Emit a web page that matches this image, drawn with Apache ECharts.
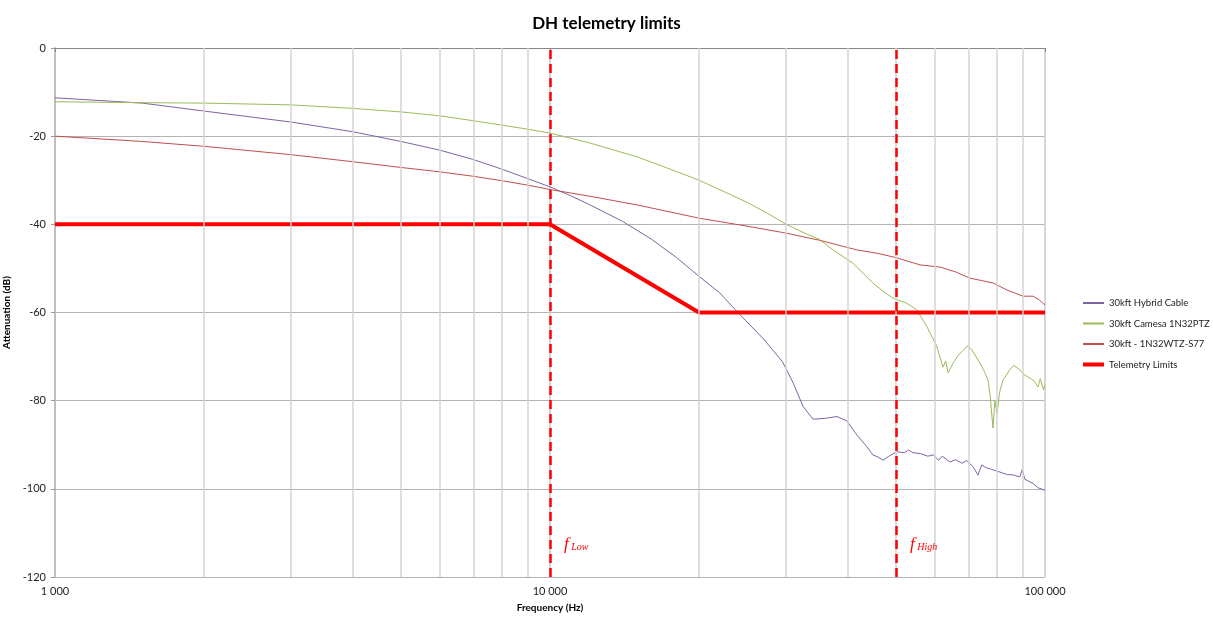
<!DOCTYPE html>
<html>
<head>
<meta charset="utf-8">
<script src="https://cdn.jsdelivr.net/npm/echarts@6/dist/echarts.min.js"></script>
<style>html,body{margin:0;padding:0;background:#fff}#c{width:1213px;height:617px}</style>
</head>
<body>
<div id="c"></div>
<script>
var hybridFreq = [1000,1500,2000,3000,4000,5000,6000,7000,8000,9000,10000,11000,12000,14000,16000,18000,20000,22000,24200,27000,29500,31000,32450,34000,36000,38000,39800,41500,43700,44900,46000,47100,48500,50200,52000,53000,54100,56000,58000,59400,61000,62000,64300,66000,68000,69500,71600,73200,74500,76000,78000,81100,84000,86000,88900,90000,91000,94600,97000,100000];
var hybridDb = [-11.3,-12.5,-14.3,-16.8,-19.0,-21.2,-23.2,-25.3,-27.5,-29.6,-31.5,-33.5,-35.5,-39.3,-43.3,-47.5,-51.8,-55.5,-60.5,-66.0,-71.2,-76.0,-81.3,-84.2,-84.0,-83.6,-84.6,-87.5,-90.5,-92.3,-92.8,-93.5,-92.5,-91.6,-91.8,-91.2,-91.8,-92.0,-92.6,-92.3,-93.5,-92.6,-93.9,-93.4,-94.2,-93.6,-95.0,-96.9,-94.6,-95.2,-95.6,-96.2,-96.8,-96.8,-97.3,-95.6,-97.8,-98.8,-99.8,-100.3];

var camesaFreq = [1000,1500,2000,3000,4000,5000,6000,7000,8000,9000,10000,12000,15000,18000,20000,22500,25000,27500,30000,33000,35000,37300,40900,44900,47500,49300,50500,52600,55100,57800,60500,62200,63000,63700,65200,67000,68500,69600,71000,71600,73900,75500,76700,77500,78500,79200,80000,81000,82300,84900,86500,88900,90500,93300,95000,96800,97800,98600,99300,100000];
var camesaDb = [-12.2,-12.4,-12.5,-12.9,-13.7,-14.5,-15.4,-16.5,-17.5,-18.4,-19.3,-21.5,-24.7,-28.0,-30.0,-32.6,-35.0,-37.5,-40.0,-42.2,-43.4,-45.8,-48.8,-53.3,-55.5,-56.7,-57.2,-57.9,-59.4,-63.3,-67.8,-72.4,-71.0,-73.7,-71.5,-69.5,-68.5,-67.6,-68.3,-67.9,-71.5,-73.5,-75.3,-79.0,-86.2,-80.0,-83.0,-78.0,-75.3,-73.0,-72.0,-73.0,-74.0,-74.9,-75.5,-76.9,-75.0,-75.3,-77.5,-76.5];

var wtzFreq = [1000,1500,2000,3000,4000,5000,6000,7000,8000,9000,10000,12000,15000,20000,25000,30000,35000,41700,46000,50200,55900,61400,66000,70500,74000,78500,83800,90300,94600,97500,100000];
var wtzDb = [-20.0,-21.2,-22.3,-24.2,-25.8,-27.1,-28.1,-29.1,-30.1,-31.1,-32.1,-33.6,-35.6,-38.6,-40.4,-42.0,-43.6,-45.8,-46.6,-47.6,-49.2,-49.7,-50.8,-52.2,-52.7,-53.3,-54.9,-56.3,-56.3,-57.2,-58.3];

var limitFreq = [1000,10000,20000,100000];
var limitDb = [-40,-40,-60,-60];

var markerFreq = [10000,50000];
var markerLabels = ['Low','High'];
var minorGridFreq = [2000,3000,4000,5000,6000,7000,8000,9000,20000,30000,40000,50000,60000,70000,80000,90000];

var seriesNames = ['30kft Hybrid Cable','30kft Camesa 1N32PTZ','30kft - 1N32WTZ-S77','Telemetry Limits'];

function zip(a,b){return a.map(function(v,i){return [v,b[i]];});}
function fmt(v){return String(Math.round(v)).replace(/\B(?=(\d{3})+(?!\d))/g,' ');}

var font = 'Lato, "Liberation Sans", sans-serif';
var chart = echarts.init(document.getElementById('c'), null, {renderer:'canvas'});
chart.setOption({
  animation:false,
  backgroundColor:'#fff',
  textStyle:{fontFamily:font},
  title:{text:'DH telemetry limits',left:'center',top:10,textStyle:{fontSize:17,fontWeight:'bold',color:'#000',fontFamily:font}},
  grid:{left:55,right:168,top:48,bottom:40,containLabel:false,outerBoundsMode:'none'},
  legend:{
    data:seriesNames.map(function(n,i){return i===3?{name:n,lineStyle:{width:4}}:{name:n};}),
    orient:'vertical',left:1081,top:298,padding:0,itemGap:10.5,itemWidth:21,itemHeight:10,
    itemStyle:{opacity:0},
    textStyle:{fontSize:9.5,color:'#222',fontFamily:font,overflow:'none',width:130}
  },
  xAxis:{
    type:'log',logBase:10,min:1000,max:100000,
    name:'Frequency (Hz)',nameLocation:'middle',nameGap:26,
    nameTextStyle:{fontSize:10,fontWeight:'bold',color:'#000',fontFamily:font},
    axisLine:{lineStyle:{color:'#888',width:1}},
    axisTick:{show:true,length:4,lineStyle:{color:'#888'}},
    axisLabel:{fontSize:11,color:'#222',margin:9,formatter:fmt},
    splitLine:{show:true,lineStyle:{color:'#c8c8c8',width:1.5}}
  },
  yAxis:{
    type:'value',min:-120,max:0,interval:20,
    name:'Attenuation (dB)',nameLocation:'middle',nameGap:34,
    nameTextStyle:{fontSize:10,fontWeight:'bold',color:'#000',fontFamily:font},
    axisLine:{show:true,lineStyle:{color:'#c0c0c0',width:2}},
    axisTick:{show:true,length:4,lineStyle:{color:'#999'}},
    axisLabel:{fontSize:11,color:'#222',margin:9},
    splitLine:{show:true,lineStyle:{color:'#b4b4b4',width:1}}
  },
  series:[
    {name:'grid',type:'line',data:[],silent:true,
     markLine:{silent:true,symbol:['none','none'],label:{show:false},animation:false,
       lineStyle:{color:'#d4d4d4',type:'solid',width:1.5},
       data:minorGridFreq.map(function(f){return {xAxis:f};})}},
    {name:seriesNames[0],type:'line',data:zip(hybridFreq,hybridDb),symbol:'none',
     lineStyle:{color:'#8064a2',width:1},itemStyle:{color:'#8064a2'}},
    {name:seriesNames[1],type:'line',data:zip(camesaFreq,camesaDb),symbol:'none',
     lineStyle:{color:'#9bbb59',width:1},itemStyle:{color:'#9bbb59'}},
    {name:seriesNames[2],type:'line',data:zip(wtzFreq,wtzDb),symbol:'none',
     lineStyle:{color:'#c0504d',width:1},itemStyle:{color:'#c0504d'}},
    {name:seriesNames[3],type:'line',data:zip(limitFreq,limitDb),symbol:'none',
     lineStyle:{color:'#ff0000',width:4},itemStyle:{color:'#ff0000'}},
    {name:'markers',type:'line',data:[],silent:true,
     markLine:{silent:true,symbol:['none','none'],label:{show:false},animation:false,
       lineStyle:{color:'#ff0000',type:[9,5],width:2.5},
       data:markerFreq.map(function(f){return {xAxis:f};})},
     markPoint:{silent:true,symbol:'circle',symbolSize:0,animation:false,
       data:markerFreq.map(function(f,i){return {coord:[f,-112.7],
         label:{show:true,position:'right',distance:14,
           formatter:'{f|f}{s| '+markerLabels[i]+'}',
           rich:{f:{fontFamily:'"Liberation Serif","DejaVu Serif",serif',fontStyle:'italic',fontSize:17,color:'#ff0000'},
                 s:{fontFamily:'"Liberation Serif","DejaVu Serif",serif',fontStyle:'italic',fontSize:10,color:'#ff0000',padding:[5,0,0,0]}}}};})}}
  ]
});
</script>
</body>
</html>
